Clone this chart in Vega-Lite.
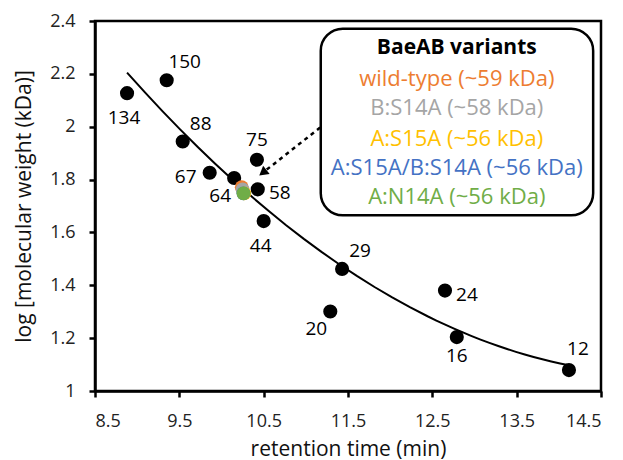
{
  "$schema": "https://vega.github.io/schema/vega-lite/v6.json",
  "width": 506,
  "height": 370,
  "autosize": {"type": "none"},
  "padding": {"left": 95, "top": 21, "right": 22, "bottom": 69},
  "background": "white",
  "config": {
    "view": {"stroke": "black", "strokeWidth": 2.5},
    "axis": {
      "grid": false,
      "domainColor": "black",
      "domainWidth": 2.5,
      "tickColor": "black",
      "tickWidth": 2.5,
      "tickSize": 6,
      "labelFont": "Open Sans",
      "labelFontSize": 18,
      "labelColor": "#222",
      "titleFont": "Open Sans",
      "titleFontSize": 21,
      "titleFontWeight": "normal",
      "titleColor": "#111"
    }
  },
  "datasets": {
    "standards": [
      {"rt": 8.88, "logmw": 2.127, "mw": "134", "pos": "b"},
      {"rt": 9.35, "logmw": 2.176, "mw": "150", "pos": "ur"},
      {"rt": 9.54, "logmw": 1.944, "mw": "88", "pos": "ur"},
      {"rt": 9.86, "logmw": 1.826, "mw": "67", "pos": "l"},
      {"rt": 10.15, "logmw": 1.806, "mw": "64", "pos": "bl"},
      {"rt": 10.42, "logmw": 1.875, "mw": "75", "pos": "a"},
      {"rt": 10.43, "logmw": 1.763, "mw": "58", "pos": "r"},
      {"rt": 10.5, "logmw": 1.643, "mw": "44", "pos": "b"},
      {"rt": 11.43, "logmw": 1.462, "mw": "29", "pos": "ur"},
      {"rt": 11.29, "logmw": 1.301, "mw": "20", "pos": "bl"},
      {"rt": 12.65, "logmw": 1.38, "mw": "24", "pos": "r"},
      {"rt": 12.79, "logmw": 1.204, "mw": "16", "pos": "b2"},
      {"rt": 14.12, "logmw": 1.079, "mw": "12", "pos": "ar"}
    ],
    "variants": [
      {"rt": 10.24, "logmw": 1.771, "variant": "wild-type (~59 kDa)", "ty": 2.182},
      {"rt": 10.25, "logmw": 1.763, "variant": "B:S14A (~58 kDa)", "ty": 2.069},
      {"rt": 10.27, "logmw": 1.748, "variant": "A:S15A (~56 kDa)", "ty": 1.955},
      {"rt": 10.26, "logmw": 1.748, "variant": "A:S15A/B:S14A (~56 kDa)", "ty": 1.842},
      {"rt": 10.26, "logmw": 1.748, "variant": "A:N14A (~56 kDa)", "ty": 1.734}
    ],
    "box": [
      {"x1": 11.177, "x2": 14.407, "y1": 2.371, "y2": 1.665, "tx": 12.79, "ty": 2.296, "title": "BaeAB variants"}
    ],
    "arrow": [
      {"x1": 11.17, "y1": 1.997, "x2": 10.49, "y2": 1.826}
    ]
  },
  "encoding": {
    "x": {"type": "quantitative", "scale": {"domain": [8.5, 14.5], "nice": false, "zero": false}},
    "y": {"type": "quantitative", "scale": {"domain": [1, 2.4], "nice": false, "zero": false}}
  },
  "layer": [
    {
      "data": {"name": "box"},
      "mark": {"type": "rect", "fill": "white", "stroke": "black", "strokeWidth": 2.5, "cornerRadius": 22},
      "encoding": {
        "x": {"field": "x1", "type": "quantitative"},
        "x2": {"field": "x2"},
        "y": {"field": "y1", "type": "quantitative"},
        "y2": {"field": "y2"}
      }
    },
    {
      "data": {"name": "arrow"},
      "mark": {"type": "rule", "stroke": "black", "strokeWidth": 2.5, "strokeDash": [4, 4]},
      "encoding": {
        "x": {"field": "x1", "type": "quantitative"},
        "y": {"field": "y1", "type": "quantitative"},
        "x2": {"field": "x2"},
        "y2": {"field": "y2"}
      }
    },
    {
      "data": {"name": "arrow"},
      "mark": {"type": "point", "shape": "triangle-up", "filled": true, "color": "black", "size": 110, "angle": 231.7, "opacity": 1},
      "encoding": {
        "x": {"field": "x2", "type": "quantitative"},
        "y": {"field": "y2", "type": "quantitative"}
      }
    },
    {
      "data": {"name": "standards"},
      "transform": [{"regression": "logmw", "on": "rt", "method": "poly", "order": 2}],
      "mark": {"type": "line", "color": "black", "strokeWidth": 2},
      "encoding": {
        "x": {"field": "rt", "type": "quantitative", "title": "retention time (min)",
              "axis": {"values": [8.5, 9.5, 10.5, 11.5, 12.5, 13.5, 14.5], "format": "~g", "labelPadding": 15, "titlePadding": 8}},
        "y": {"field": "logmw", "type": "quantitative", "title": "log [molecular weight (kDa)]",
              "axis": {"values": [1, 1.2, 1.4, 1.6, 1.8, 2, 2.2, 2.4], "format": "~g", "labelPadding": 14, "titlePadding": 15}}
      }
    },
    {
      "data": {"name": "standards"},
      "mark": {"type": "point", "filled": true, "color": "black", "size": 200, "opacity": 1},
      "encoding": {
        "x": {"field": "rt", "type": "quantitative"},
        "y": {"field": "logmw", "type": "quantitative"}
      }
    },
    {
      "data": {"name": "variants"},
      "mark": {"type": "point", "filled": true, "size": 190, "opacity": 1},
      "encoding": {
        "x": {"field": "rt", "type": "quantitative"},
        "y": {"field": "logmw", "type": "quantitative"},
        "color": {"field": "variant", "type": "nominal", "legend": null,
                  "scale": {"domain": ["wild-type (~59 kDa)", "B:S14A (~58 kDa)", "A:S15A (~56 kDa)", "A:S15A/B:S14A (~56 kDa)", "A:N14A (~56 kDa)"],
                            "range": ["#ED7D31", "#A5A5A5", "#FFC000", "#4472C4", "#70AD47"]}}
      }
    },
    {
      "data": {"name": "standards"},
      "transform": [{"filter": "datum.pos === 'ur'"}],
      "mark": {"type": "text", "font": "Open Sans", "fontSize": 19, "color": "black", "dx": 18, "dy": -18, "baseline": "middle"},
      "encoding": {"x": {"field": "rt", "type": "quantitative"}, "y": {"field": "logmw", "type": "quantitative"}, "text": {"field": "mw"}}
    },
    {
      "data": {"name": "standards"},
      "transform": [{"filter": "datum.pos === 'b'"}],
      "mark": {"type": "text", "font": "Open Sans", "fontSize": 19, "color": "black", "dx": -3, "dy": 25, "baseline": "middle"},
      "encoding": {"x": {"field": "rt", "type": "quantitative"}, "y": {"field": "logmw", "type": "quantitative"}, "text": {"field": "mw"}}
    },
    {
      "data": {"name": "standards"},
      "transform": [{"filter": "datum.pos === 'b2'"}],
      "mark": {"type": "text", "font": "Open Sans", "fontSize": 19, "color": "black", "dx": 0, "dy": 19, "baseline": "middle"},
      "encoding": {"x": {"field": "rt", "type": "quantitative"}, "y": {"field": "logmw", "type": "quantitative"}, "text": {"field": "mw"}}
    },
    {
      "data": {"name": "standards"},
      "transform": [{"filter": "datum.pos === 'l'"}],
      "mark": {"type": "text", "font": "Open Sans", "fontSize": 19, "color": "black", "dx": -24, "dy": 4, "baseline": "middle"},
      "encoding": {"x": {"field": "rt", "type": "quantitative"}, "y": {"field": "logmw", "type": "quantitative"}, "text": {"field": "mw"}}
    },
    {
      "data": {"name": "standards"},
      "transform": [{"filter": "datum.pos === 'bl'"}],
      "mark": {"type": "text", "font": "Open Sans", "fontSize": 19, "color": "black", "dx": -14, "dy": 18, "baseline": "middle"},
      "encoding": {"x": {"field": "rt", "type": "quantitative"}, "y": {"field": "logmw", "type": "quantitative"}, "text": {"field": "mw"}}
    },
    {
      "data": {"name": "standards"},
      "transform": [{"filter": "datum.pos === 'a'"}],
      "mark": {"type": "text", "font": "Open Sans", "fontSize": 19, "color": "black", "dx": 0, "dy": -20, "baseline": "middle"},
      "encoding": {"x": {"field": "rt", "type": "quantitative"}, "y": {"field": "logmw", "type": "quantitative"}, "text": {"field": "mw"}}
    },
    {
      "data": {"name": "standards"},
      "transform": [{"filter": "datum.pos === 'r'"}],
      "mark": {"type": "text", "font": "Open Sans", "fontSize": 19, "color": "black", "dx": 22, "dy": 4, "baseline": "middle"},
      "encoding": {"x": {"field": "rt", "type": "quantitative"}, "y": {"field": "logmw", "type": "quantitative"}, "text": {"field": "mw"}}
    },
    {
      "data": {"name": "standards"},
      "transform": [{"filter": "datum.pos === 'ar'"}],
      "mark": {"type": "text", "font": "Open Sans", "fontSize": 19, "color": "black", "dx": 9, "dy": -21, "baseline": "middle"},
      "encoding": {"x": {"field": "rt", "type": "quantitative"}, "y": {"field": "logmw", "type": "quantitative"}, "text": {"field": "mw"}}
    },
    {
      "data": {"name": "box"},
      "mark": {"type": "text", "font": "Open Sans", "fontSize": 21, "fontWeight": "bold", "color": "black", "baseline": "middle"},
      "encoding": {"x": {"field": "tx", "type": "quantitative"}, "y": {"field": "ty", "type": "quantitative"}, "text": {"field": "title"}}
    },
    {
      "data": {"name": "variants"},
      "mark": {"type": "text", "font": "Open Sans", "fontSize": 22, "baseline": "middle"},
      "encoding": {
        "x": {"datum": 12.79, "type": "quantitative"},
        "y": {"field": "ty", "type": "quantitative"},
        "text": {"field": "variant"},
        "color": {"field": "variant", "type": "nominal", "legend": null}
      }
    }
  ]
}
